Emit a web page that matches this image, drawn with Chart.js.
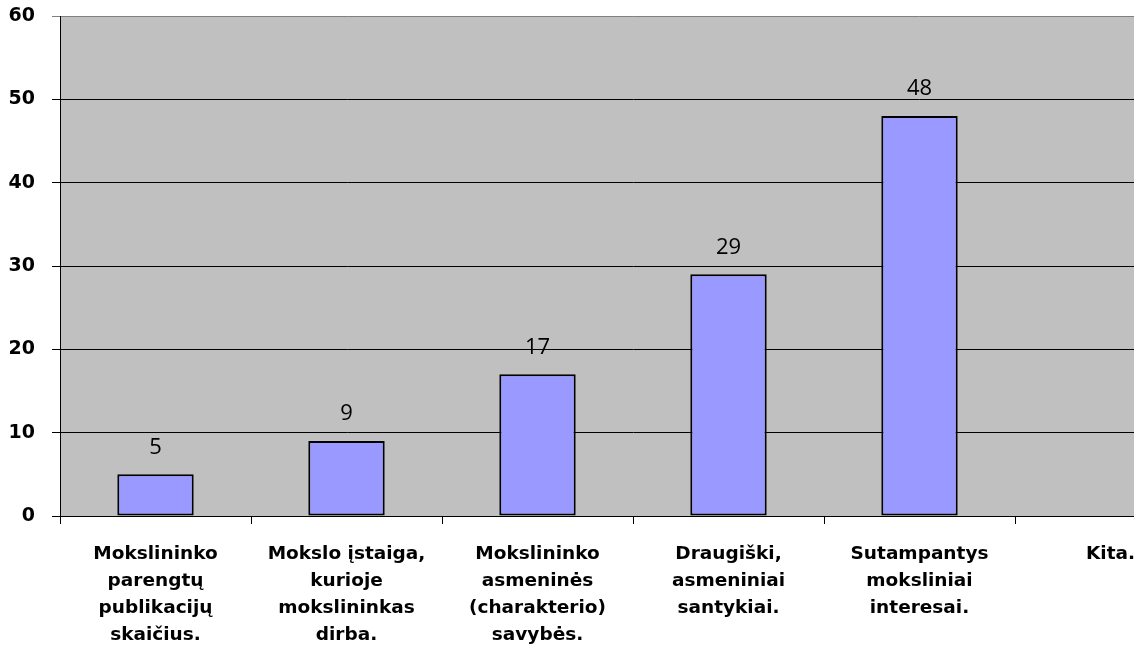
<!DOCTYPE html>
<html>
<head>
<meta charset="utf-8">
<script src="https://cdn.jsdelivr.net/npm/chart.js@4.4.1/dist/chart.umd.min.js"></script>
<style>
  html, body { margin: 0; padding: 0; background: #fff; }
  #wrap { width: 1134px; height: 654px; overflow: hidden; }
</style>
</head>
<body>
<div id="wrap"><canvas id="chart" width="1206" height="654"></canvas></div>
<script>
// Duomenys
const categories = [
    ['Mokslininko', 'parengtų', 'publikacijų', 'skaičius.'],
    ['Mokslo įstaiga,', 'kurioje', 'mokslininkas', 'dirba.'],
    ['Mokslininko', 'asmeninės', '(charakterio)', 'savybės.'],
    ['Draugiški,', 'asmeniniai', 'santykiai.'],
    ['Sutampantys', 'moksliniai', 'interesai.'],
    ['Kita.']
];
const values = [5, 9, 17, 29, 48, null];
const yTicks = [0, 10, 20, 30, 40, 50, 60];

// pilkas fonas po grafiku
const plotBackground = {
    id: 'plotBackground',
    beforeDraw: function(chart) {
        const a = chart.chartArea;
        const ctx = chart.ctx;
        ctx.save();
        ctx.fillStyle = '#C0C0C0';
        ctx.fillRect(a.left, a.top, a.right - a.left, a.bottom - a.top);
        ctx.restore();
    }
};

// reikšmės virš stulpelių
const valueLabels = {
    id: 'valueLabels',
    afterDatasetsDraw: function(chart) {
        const ctx = chart.ctx;
        const meta = chart.getDatasetMeta(0);
        ctx.save();
        ctx.font = '22px "Open Sans"';
        ctx.fillStyle = '#000';
        ctx.textAlign = 'center';
        ctx.textBaseline = 'middle';
        meta.data.forEach((bar, i) => {
            const v = values[i];
            if (v === null || v === undefined) return;
            ctx.fillText(String(v), bar.x, bar.y - 27);
        });
        ctx.restore();
    }
};

new Chart(document.getElementById('chart').getContext('2d'), {
    type: 'bar',
    data: {
        labels: categories,
        datasets: [{
            data: values,
            backgroundColor: '#9999FF',
            borderColor: '#000',
            borderWidth: 2,
            borderSkipped: false,
            barPercentage: 0.4,
            categoryPercentage: 1
        }]
    },
    options: {
        responsive: false,
        animation: false,
        layout: { padding: { top: 16, left: 0, right: 0, bottom: 0 } },
        plugins: {
            legend: { display: false },
            tooltip: { enabled: false }
        },
        scales: {
            x: {
                afterFit: function(scale) { scale.height = 138; },
                grid: {
                    offset: true,
                    drawOnChartArea: false,
                    drawTicks: true,
                    tickLength: 8,
                    color: '#000'
                },
                border: { display: true, color: '#000', width: 1 },
                ticks: {
                    maxRotation: 0,
                    autoSkip: false,
                    padding: 17,
                    color: '#000',
                    font: { family: '"DejaVu Sans"', size: 18.5, weight: 'bold', lineHeight: '27px' }
                }
            },
            y: {
                min: 0,
                max: 60,
                afterFit: function(scale) {
                    scale.width = 60;
                    scale.paddingTop = 0;
                    scale.paddingBottom = 0;
                },
                afterBuildTicks: function(scale) {
                    scale.ticks = yTicks.map(v => ({ value: v }));
                },
                grid: {
                    color: function(c) { return c.tick && c.tick.value === 60 ? '#808080' : '#000'; },
                    tickLength: 8,
                    lineWidth: 1
                },
                border: { display: true, color: '#000', width: 1 },
                ticks: {
                    padding: 17,
                    color: '#000',
                    font: { family: '"DejaVu Sans"', size: 19, weight: 'bold' }
                }
            }
        }
    },
    plugins: [plotBackground, valueLabels]
});
</script>
</body>
</html>
